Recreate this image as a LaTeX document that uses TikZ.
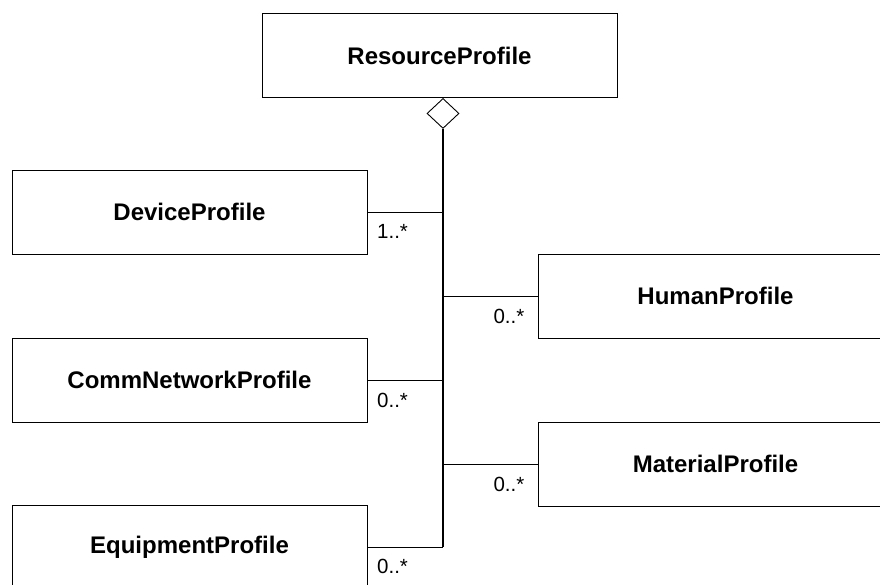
\documentclass[tikz,border=0pt]{standalone}
\usepackage{fontspec}
\setmainfont{Liberation Sans}
\usetikzlibrary{shapes.geometric}
\tikzset{
  classbox/.style={draw=black, line width=0.9pt, rectangle, minimum width=355pt,
    minimum height=84pt, inner sep=0pt, font=\fontsize{24}{28}\selectfont\bfseries},
  aggdiamond/.style={draw=black, line width=0.9pt, diamond, minimum width=32pt,
    minimum height=30pt, inner sep=0pt, fill=white},
  trunk/.style={draw=black, line width=1.3pt},
  branch/.style={draw=black, line width=0.8pt},
  mult/.style={inner sep=0pt, font=\fontsize{20.5}{22}\selectfont}
}
\begin{document}
\begin{tikzpicture}[x=1pt,y=-1pt]
  \clip (0,0) rectangle (880,585);
  \fill[white] (0,0) rectangle (880,585);

  % classes
  \node[classbox] (res) at (439.5,55.5) {ResourceProfile};
  \node[classbox] (dev) at (189.5,212) {DeviceProfile};
  \node[classbox] (hum) at (715.5,296) {HumanProfile};
  \node[classbox] (comm) at (189.5,380) {CommNetworkProfile};
  \node[classbox] (mat) at (715.5,464) {MaterialProfile};
  \node[classbox] (equ) at (189.5,547) {EquipmentProfile};

  % aggregation diamond under the whole
  \node[aggdiamond, anchor=north] (agg) at (443,98) {};

  % shared trunk and the branches to each part
  \draw[trunk] (agg.south) -- (agg.south |- equ.east);
  \draw[branch] (dev.east) -- (dev.east -| agg.south);
  \draw[branch] (hum.west) -- (hum.west -| agg.south);
  \draw[branch] (comm.east) -- (comm.east -| agg.south);
  \draw[branch] (mat.west) -- (mat.west -| agg.south);
  \draw[branch] (equ.east) -- (equ.east -| agg.south);

  % multiplicities
  \node[mult, anchor=base west] (mdev) at ([shift={(9.5,27)}]dev.east) {1..*};
  \node[mult, anchor=base east] (mhum) at ([shift={(-13,27)}]hum.west) {0..*};
  \node[mult, anchor=base west] (mcomm) at ([shift={(9.5,27)}]comm.east) {0..*};
  \node[mult, anchor=base east] (mmat) at ([shift={(-13,27)}]mat.west) {0..*};
  \node[mult, anchor=base west] (mequ) at ([shift={(9.5,26)}]equ.east) {0..*};
\end{tikzpicture}
\end{document}
